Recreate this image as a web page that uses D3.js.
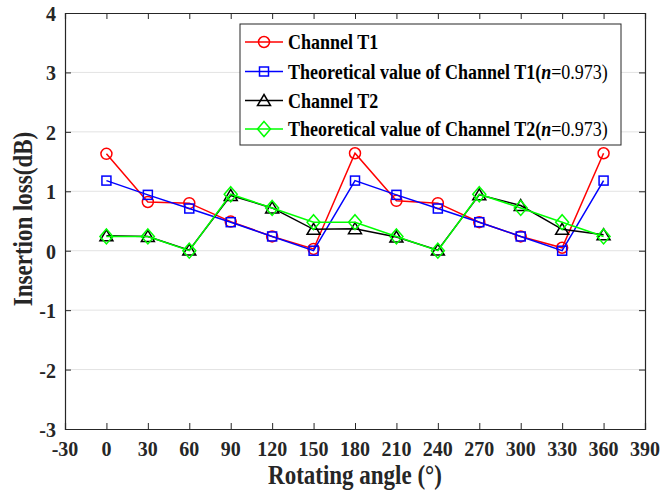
<!DOCTYPE html>
<html><head><meta charset="utf-8">
<script src="https://cdn.jsdelivr.net/npm/d3@7"></script>
<style>body{margin:0;background:#fff;} svg{display:block;}</style>
</head><body><svg id="c" width="662" height="495"></svg>
<script>
const angles = [0,30,60,90,120,150,180,210,240,270,300,330,360];
const channelT1 = [1.63,0.82,0.80,0.49,0.24,0.03,1.64,0.84,0.80,0.48,0.24,0.05,1.64];
const theoryT1 = [1.18,0.94,0.71,0.48,0.24,0.0,1.18,0.94,0.71,0.48,0.24,0.0,1.18];
const channelT2 = [0.25,0.24,0.01,0.93,0.72,0.36,0.37,0.23,0.01,0.94,0.76,0.36,0.27];
const theoryT2 = [0.24,0.24,0.0,0.95,0.72,0.48,0.48,0.24,0.0,0.95,0.72,0.48,0.24];
const xTicks = [-30,0,30,60,90,120,150,180,210,240,270,300,330,360,390];
const yTicks = [-3,-2,-1,0,1,2,3,4];
const seriesNames = ["Channel T1","Theoretical value of Channel T1","Channel T2","Theoretical value of Channel T2"];
const colors = ["#ff0000","#0000ff","#000000","#00ff00"];
const markers = ["circle","square","triangle","diamond"];
const seriesData = [channelT1, theoryT1, channelT2, theoryT2];

const svg = d3.select("#c");
const L=65, R=645, T=13, B=429;
const SY = 1.17; // vertical stretch of text in the reference
const SYT = 1.1;
const x = d3.scaleLinear().domain([-30,390]).range([L,R]);
const y = d3.scaleLinear().domain([-3,4]).range([B,T]);
const font = "'Liberation Serif','Times New Roman',serif";
const txtCol = "#262626";

// grid
svg.append("g").selectAll("line").data(yTicks.slice(1,-1)).join("line")
  .attr("x1",L).attr("x2",R).attr("y1",d=>y(d)).attr("y2",d=>y(d))
  .attr("stroke","#e3e3e3").attr("stroke-width",1);

// axes (ticks inward on all four sides)
const axCol="#262626";
const gx = svg.append("g").attr("transform",`translate(0,${B})`)
  .call(d3.axisBottom(x).tickValues(xTicks).tickSize(-6).tickFormat(""));
const gxt = svg.append("g").attr("transform",`translate(0,${T})`)
  .call(d3.axisTop(x).tickValues(xTicks).tickSize(-6).tickFormat(""));
const gy = svg.append("g").attr("transform",`translate(${L},0)`)
  .call(d3.axisLeft(y).tickValues(yTicks).tickSize(-6).tickFormat(""));
const gyr = svg.append("g").attr("transform",`translate(${R},0)`)
  .call(d3.axisRight(y).tickValues(yTicks).tickSize(-6).tickFormat(""));
[gx,gxt,gy,gyr].forEach(g=>{
  g.select(".domain").attr("stroke",axCol).attr("stroke-width",1.2);
  g.selectAll(".tick line").attr("stroke",axCol).attr("stroke-width",1);
});

// tick labels
svg.append("g").selectAll("text").data(xTicks).join("text")
  .attr("transform",d=>`translate(${x(d)},456) scale(1,${SYT})`)
  .attr("text-anchor","middle").attr("font-family",font).attr("font-weight","bold")
  .attr("font-size",20).attr("fill",txtCol).text(d=>String(d));
svg.append("g").selectAll("text").data(yTicks).join("text")
  .attr("transform",d=>`translate(${L-9},${y(d)+8}) scale(1,${SYT})`)
  .attr("text-anchor","end").attr("font-family",font).attr("font-weight","bold")
  .attr("font-size",20).attr("fill",txtCol).text(d=>String(d));

// marker drawer
function drawMarker(g, type, cx, cy, color){
  let el;
  if(type==="circle") el = g.append("circle").attr("cx",cx).attr("cy",cy).attr("r",5.5);
  else if(type==="square") el = g.append("rect").attr("x",cx-4.5).attr("y",cy-4.5).attr("width",9).attr("height",9);
  else if(type==="triangle") el = g.append("path").attr("d",`M${cx},${cy-6}L${cx+6.5},${cy+5}L${cx-6.5},${cy+5}Z`);
  else el = g.append("path").attr("d",`M${cx},${cy-7.5}L${cx+6.5},${cy}L${cx},${cy+7.5}L${cx-6.5},${cy}Z`);
  el.attr("fill","none").attr("stroke",color).attr("stroke-width",1.5);
}

const line = d3.line().x((d,i)=>x(angles[i])).y(d=>y(d));
[0,1,2,3].forEach(k=>{
  const g = svg.append("g");
  g.append("path").datum(seriesData[k]).attr("d",line).attr("fill","none").attr("stroke",colors[k]).attr("stroke-width",1.5);
  seriesData[k].forEach((v,i)=>drawMarker(g,markers[k],x(angles[i]),y(v),colors[k]));
});

// legend
const lg = svg.append("g");
lg.append("rect").attr("x",240).attr("y",24).attr("width",381).attr("height",121).attr("fill","#fff").attr("stroke","#262626").attr("stroke-width",1);
const ly=[42,71.5,100.5,129];
seriesNames.forEach((nm,k)=>{
  lg.append("line").attr("x1",245).attr("x2",283).attr("y1",ly[k]).attr("y2",ly[k]).attr("stroke",colors[k]).attr("stroke-width",1.5);
  drawMarker(lg,markers[k],264,ly[k],colors[k]);
  const t = lg.append("text").attr("transform",`translate(288,${ly[k]+7}) scale(1,${SY})`)
    .attr("font-family",font).attr("font-weight","bold").attr("font-size",18).attr("fill","#000");
  t.append("tspan").text(nm);
  if(k%2===1){
    t.append("tspan").text("(");
    t.append("tspan").attr("font-style","italic").text("n");
    t.append("tspan").attr("font-weight","normal").text("=0.973)");
  }
});

// axis titles
svg.append("text").attr("transform",`translate(355,484) scale(1,${SY})`).attr("text-anchor","middle")
  .attr("font-family",font).attr("font-weight","bold").attr("font-size",23).attr("fill",txtCol).text("Rotating angle (°)");
svg.append("text").attr("transform",`translate(32,219) rotate(-90) scale(1,1.15)`).attr("text-anchor","middle")
  .attr("font-family",font).attr("font-weight","bold").attr("font-size",23).attr("fill",txtCol).text("Insertion loss(dB)");
</script></body></html>
